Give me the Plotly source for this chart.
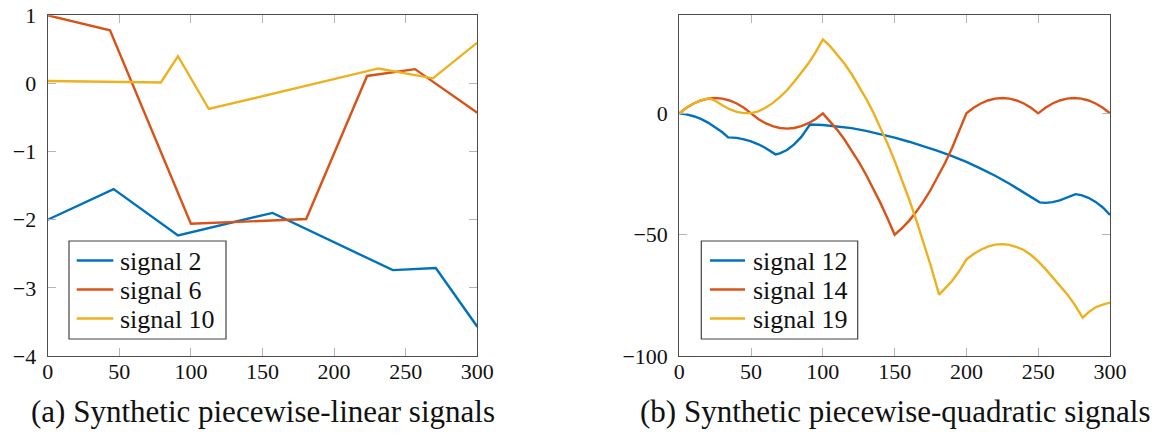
import plotly.graph_objects as go

# ---------------- data: (a) piecewise-linear ----------------
lin_x_s2 = [0, 46, 91, 157, 241, 271, 300]
lin_y_s2 = [-2.0, -1.55, -2.23, -1.90, -2.74, -2.71, -3.57]
lin_x_s6 = [0, 43.5, 100, 180.5, 223, 256.5, 300]
lin_y_s6 = [1.0, 0.78, -2.06, -1.99, 0.11, 0.21, -0.43]
lin_x_s10 = [0, 79, 91, 112.5, 231, 269, 300]
lin_y_s10 = [0.035, 0.015, 0.40, -0.375, 0.22, 0.075, 0.60]

# ---------------- data: (b) piecewise-quadratic ----------------
quad_x_s12 = [0, 5, 10, 15, 20, 25, 30, 34, 40, 45, 50, 55, 60, 67, 70, 75, 80, 85, 91,
              100, 110, 120, 130, 140, 150, 160, 170, 180, 190, 200, 210, 220, 230, 240, 251,
              255, 260, 265, 270, 276, 280, 285, 290, 295, 300]
quad_y_s12 = [0, -0.4, -1.2, -2.3, -3.8, -5.7, -7.8, -9.9, -10.1, -10.7, -11.55, -12.75, -14.25, -16.9,
              -16.5, -15.1, -12.8, -9.7, -4.6,
              -4.8, -5.3, -6.1, -7.2, -8.5, -10.0, -11.7, -13.5, -15.5, -17.6, -20.0, -22.8, -25.7,
              -29.0, -32.5, -36.7,
              -36.9, -36.6, -35.9, -34.8, -33.3, -33.7, -34.8, -36.5, -38.8, -41.9]

quad_x_s14 = [0, 5, 10, 15, 20, 25, 30, 35, 40, 45, 50, 55, 60, 65, 70, 75, 80, 85, 90, 95, 100,
              105, 110, 115, 120, 125, 130, 135, 140, 145, 150,
              155, 160, 165, 170, 175, 180, 185, 190, 195, 200,
              205, 210, 215, 220, 225, 230, 235, 240, 245, 250,
              255, 260, 265, 270, 275, 280, 285, 290, 295, 300]
quad_y_s14 = [0, 2.3, 4.05, 5.3, 6.05, 6.3, 6.05, 5.3, 4.05, 2.3, 0,
              -2.3, -4.05, -5.3, -6.05, -6.3, -6.05, -5.3, -4.05, -2.3, 0,
              -3.2, -6.8, -10.8, -15.2, -20.0, -25.2, -30.8, -36.8, -43.2, -50.0,
              -47.4, -44.3, -40.6, -36.4, -31.6, -26.4, -20.6, -14.3, -7.4, 0,
              2.3, 4.05, 5.3, 6.05, 6.3, 6.05, 5.3, 4.05, 2.3, 0,
              2.3, 4.05, 5.3, 6.05, 6.3, 6.05, 5.3, 4.05, 2.3, 0]

quad_x_s19 = [0, 5, 10, 15, 21, 25, 30, 35, 40, 45, 50, 55, 60, 65, 70, 75, 80, 85, 90, 95, 100,
              105, 110, 115, 120, 125, 130, 135, 140, 145, 150, 155, 160, 165, 170, 175, 181,
              185, 190, 195, 200, 205, 210, 215, 220, 225, 230, 235, 240, 245, 250, 255, 260,
              265, 270, 275, 281, 285, 290, 295, 300]
quad_y_s19 = [0, 2.3, 4.05, 5.3, 6.2, 5.2, 3.3, 1.7, 0.6, 0.1, 0.1, 0.8, 2.3, 4.2, 6.7, 9.5, 13.0,
              16.6, 20.6, 25.2, 30.5,
              27.7, 24.3, 20.5, 16.2, 11.4, 6.2, 0.5, -5.7, -12.4, -19.6, -27.2, -35.3, -43.9,
              -53.0, -62.5, -74.7,
              -72.2, -69.1, -65.0, -60.2, -58.0, -56.2, -54.9, -54.1, -53.9, -54.2, -55.1, -56.3,
              -58.4, -61.0, -64.1, -67.5, -71.0, -74.4, -78.5, -84.2,
              -82.0, -79.9, -78.8, -78.0]

xticks = [0, 50, 100, 150, 200, 250, 300]
yticks_a = [-4, -3, -2, -1, 0, 1]
yticks_b = [-100, -50, 0]
names_a = ["signal 2", "signal 6", "signal 10"]
names_b = ["signal 12", "signal 14", "signal 19"]
captions = ["(a) Synthetic piecewise-linear signals", "(b) Synthetic piecewise-quadratic signals"]

colors = ["#0072BD", "#D95319", "#EDB120"]
FONT = "Liberation Serif, DejaVu Serif, serif"
W, H = 1158, 437
lw = 2.4

fig = go.Figure()
for xs, ys, nm, c in zip([lin_x_s2, lin_x_s6, lin_x_s10], [lin_y_s2, lin_y_s6, lin_y_s10], names_a, colors):
    fig.add_trace(go.Scatter(x=xs, y=ys, mode="lines", name=nm, line=dict(color=c, width=lw),
                             xaxis="x", yaxis="y"))
for xs, ys, nm, c in zip([quad_x_s12, quad_x_s14, quad_x_s19], [quad_y_s12, quad_y_s14, quad_y_s19],
                         names_b, colors):
    fig.add_trace(go.Scatter(x=xs, y=ys, mode="lines", name=nm, line=dict(color=c, width=lw),
                             xaxis="x2", yaxis="y2"))

# plot area pixel boxes
L1, R1 = 47.7, 477.3
L2, R2 = 679.3, 1110.0
TOP, BOT = 15.3, 356.0
ydom = [1 - BOT / H, 1 - TOP / H]

axis_common = dict(showgrid=False, zeroline=False, showline=True, linecolor="#4d4d4d",
                   linewidth=1.2, mirror="ticks", ticks="inside", ticklen=8, tickwidth=1,
                   tickcolor="#b5b5b5", tickfont=dict(family=FONT, size=22, color="#111"),
                   automargin=False)

fig.update_layout(
    width=W, height=H, template="none",
    paper_bgcolor="white", plot_bgcolor="white",
    margin=dict(l=0, r=0, t=0, b=0),
    font=dict(family=FONT, color="#111"),
    showlegend=False,
    xaxis=dict(domain=[L1 / W, R1 / W], range=[0, 300], tickvals=xticks, anchor="y",
               ticklabelstandoff=-5, **axis_common),
    yaxis=dict(domain=ydom, range=[-4, 1], tickvals=yticks_a, anchor="x",
               ticklabelstandoff=6, **axis_common),
    xaxis2=dict(domain=[L2 / W, R2 / W], range=[0, 300], tickvals=xticks, anchor="y2",
                ticklabelstandoff=-5, **axis_common),
    yaxis2=dict(domain=ydom, range=[-100, 40.4], tickvals=yticks_b, anchor="x2",
                ticklabelstandoff=6, **axis_common),
)


def px(x):
    return x / W


def py(y):
    return 1 - y / H


# legend boxes (drawn in paper coordinates)
legend_specs = [
    dict(box=(69, 241, 226, 339), line=(76.7, 113.3), text_x=118.3, names=names_a),
    dict(box=(701.3, 241, 857.7, 339), line=(710, 745), text_x=750.7, names=names_b),
]
row_y = [260.5, 289.5, 318.5]
for spec in legend_specs:
    x0, y0, x1, y1 = spec["box"]
    fig.add_shape(type="rect", xref="paper", yref="paper", x0=px(x0), x1=px(x1), y0=py(y1), y1=py(y0),
                  line=dict(color="#444", width=1.2), fillcolor="white", layer="above")
    for ry, nm, c in zip(row_y, spec["names"], colors):
        fig.add_shape(type="line", xref="paper", yref="paper", x0=px(spec["line"][0]),
                      x1=px(spec["line"][1]), y0=py(ry), y1=py(ry),
                      line=dict(color=c, width=lw), layer="above")
        fig.add_annotation(text=nm, xref="paper", yref="paper", x=px(spec["text_x"]), y=py(ry + 1),
                           xanchor="left", yanchor="middle", showarrow=False,
                           font=dict(family=FONT, size=26, color="#111"))

for cap, (a, b) in zip(captions, [(L1, R1), (L2, R2)]):
    fig.add_annotation(text=cap, xref="paper", yref="paper", x=px((a + b) / 2), y=py(411),
                       xanchor="center", yanchor="middle", showarrow=False,
                       font=dict(family=FONT, size=31, color="#111"))

fig.write_html("out.html", config={"displayModeBar": False},
               post_script="document.body.style.margin='0';document.body.style.overflow='hidden';")
